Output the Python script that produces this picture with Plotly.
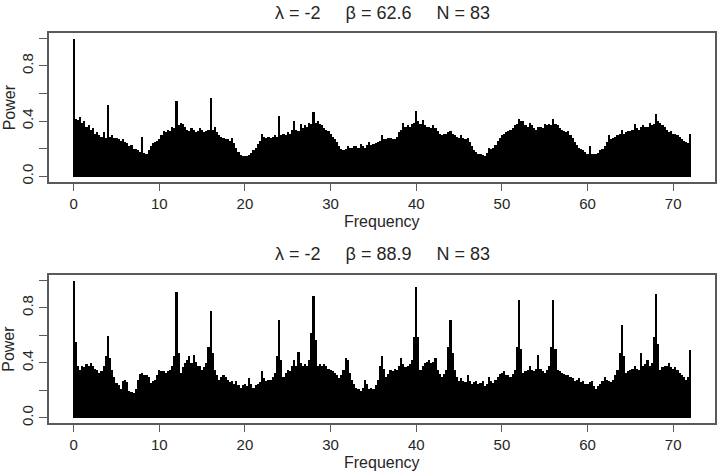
import plotly.graph_objects as go

# Frequencies: 0 to 72 in steps of 0.25 (289 points)
FREQ_STEP = 0.25
FREQ = [i * FREQ_STEP for i in range(289)]

# Power, panel 1 (lambda=-2, beta=62.6, N=83); 4 values per unit frequency
POWER_TOP = [
    1.00, 0.42, 0.41, 0.43,   0.39, 0.40, 0.36, 0.37,   0.34, 0.35, 0.31, 0.32,
    0.30, 0.29, 0.32, 0.28,   0.52, 0.29, 0.30, 0.28,   0.28, 0.27, 0.26, 0.27,
    0.25, 0.24, 0.22, 0.23,   0.20, 0.20, 0.19, 0.18,   0.29, 0.17, 0.16, 0.19,
    0.22, 0.24, 0.25, 0.26,   0.27, 0.30, 0.33, 0.32,   0.34, 0.33, 0.36, 0.35,
    0.55, 0.37, 0.39, 0.38,   0.36, 0.34, 0.33, 0.35,   0.34, 0.32, 0.33, 0.35,
    0.34, 0.32, 0.33, 0.34,   0.57, 0.34, 0.36, 0.32,   0.30, 0.29, 0.28, 0.27,
    0.27, 0.26, 0.28, 0.24,   0.21, 0.18, 0.155, 0.15,  0.15, 0.15, 0.155, 0.17,
    0.19, 0.21, 0.235, 0.26,  0.31, 0.29, 0.28, 0.29,   0.28, 0.29, 0.30, 0.29,
    0.435, 0.30, 0.31, 0.30,  0.32, 0.31, 0.34, 0.40,   0.34, 0.33, 0.38, 0.35,
    0.37, 0.36, 0.39, 0.38,   0.47, 0.39, 0.40, 0.38,   0.37, 0.35, 0.34, 0.33,
    0.31, 0.29, 0.27, 0.25,   0.22, 0.20, 0.19, 0.20,   0.22, 0.21, 0.21, 0.22,
    0.22, 0.21, 0.235, 0.22,  0.21, 0.23, 0.25, 0.23,   0.235, 0.24, 0.25, 0.26,
    0.30, 0.27, 0.27, 0.28,   0.28, 0.27, 0.27, 0.29,   0.32, 0.34, 0.39, 0.36,
    0.37, 0.36, 0.38, 0.39,   0.475, 0.40, 0.38, 0.41,  0.37, 0.36, 0.36, 0.35,
    0.37, 0.35, 0.33, 0.31,   0.30, 0.31, 0.31, 0.32,   0.33, 0.31, 0.30, 0.29,
    0.28, 0.30, 0.28, 0.27,   0.28, 0.25, 0.22, 0.19,   0.175, 0.165, 0.16, 0.155,
    0.15, 0.17, 0.21, 0.20,   0.21, 0.23, 0.26, 0.28,   0.30, 0.31, 0.32, 0.33,
    0.34, 0.35, 0.37, 0.38,   0.415, 0.40, 0.40, 0.37,  0.36, 0.39, 0.37, 0.35,
    0.34, 0.36, 0.36, 0.35,   0.38, 0.37, 0.38, 0.37,   0.42, 0.38, 0.37, 0.35,
    0.34, 0.33, 0.32, 0.33,   0.30, 0.28, 0.25, 0.23,   0.21, 0.20, 0.19, 0.18,
    0.165, 0.22, 0.165, 0.16, 0.165, 0.17, 0.19, 0.20,  0.22, 0.25, 0.30, 0.27,
    0.28, 0.29, 0.30, 0.31,   0.34, 0.31, 0.32, 0.33,   0.33, 0.34, 0.38, 0.35,
    0.34, 0.36, 0.37, 0.36,   0.36, 0.39, 0.37, 0.38,   0.45, 0.40, 0.39, 0.37,
    0.36, 0.34, 0.32, 0.33,   0.31, 0.31, 0.30, 0.29,   0.27, 0.26, 0.25, 0.24,
    0.31,
]

# Power, panel 2 (lambda=-2, beta=88.9, N=83)
POWER_BOTTOM = [
    1.00, 0.55, 0.375, 0.35,  0.375, 0.37, 0.39, 0.38,  0.40, 0.38, 0.36, 0.35,
    0.33, 0.34, 0.375, 0.45,  0.60, 0.435, 0.35, 0.30,  0.255, 0.24, 0.21, 0.27,
    0.28, 0.26, 0.195, 0.19,  0.18, 0.21, 0.28, 0.32,   0.33, 0.31, 0.315, 0.30,
    0.255, 0.27, 0.28, 0.31,  0.35, 0.34, 0.34, 0.33,   0.34, 0.35, 0.375, 0.45,
    0.92, 0.47, 0.33, 0.37,   0.40, 0.42, 0.45, 0.40,   0.46, 0.41, 0.375, 0.38,
    0.35, 0.37, 0.40, 0.52,   0.78, 0.47, 0.35, 0.31,   0.28, 0.30, 0.315, 0.30,
    0.28, 0.26, 0.27, 0.25,   0.27, 0.24, 0.22, 0.24,   0.245, 0.23, 0.29, 0.25,
    0.22, 0.24, 0.245, 0.26,  0.34, 0.29, 0.27, 0.28,   0.28, 0.30, 0.33, 0.45,
    0.71, 0.42, 0.30, 0.33,   0.35, 0.34, 0.375, 0.42,  0.375, 0.48, 0.40, 0.38,
    0.39, 0.38, 0.42, 0.615,  0.89, 0.57, 0.375, 0.39,  0.375, 0.39, 0.375, 0.36,
    0.35, 0.34, 0.33, 0.31,   0.29, 0.31, 0.35, 0.435,  0.42, 0.33, 0.28, 0.25,
    0.22, 0.21, 0.195, 0.22,  0.28, 0.25, 0.21, 0.22,   0.21, 0.24, 0.28, 0.375,
    0.45, 0.36, 0.30, 0.32,   0.35, 0.34, 0.36, 0.35,   0.375, 0.44, 0.39, 0.37,
    0.375, 0.39, 0.42, 0.59,  0.95, 0.59, 0.35, 0.38,   0.40, 0.41, 0.42, 0.40,
    0.41, 0.435, 0.35, 0.32,  0.30, 0.32, 0.35, 0.52,   0.71, 0.47, 0.35, 0.30,
    0.27, 0.29, 0.27, 0.26,   0.31, 0.27, 0.245, 0.26,  0.27, 0.25, 0.255, 0.27,
    0.23, 0.25, 0.30, 0.27,   0.255, 0.28, 0.30, 0.32,  0.33, 0.34, 0.315, 0.31,
    0.30, 0.32, 0.35, 0.52,   0.86, 0.50, 0.33, 0.34,   0.35, 0.375, 0.35, 0.34,
    0.36, 0.46, 0.36, 0.34,   0.33, 0.35, 0.375, 0.52,  0.86, 0.50, 0.35, 0.34,
    0.33, 0.32, 0.315, 0.31,  0.30, 0.29, 0.27, 0.28,   0.29, 0.26, 0.27, 0.25,
    0.245, 0.26, 0.27, 0.23,  0.21, 0.23, 0.245, 0.27,  0.30, 0.28, 0.27, 0.26,
    0.28, 0.31, 0.35, 0.47,   0.675, 0.45, 0.33, 0.34,  0.35, 0.36, 0.375, 0.36,
    0.35, 0.47, 0.375, 0.39,  0.42, 0.38, 0.40, 0.59,   0.90, 0.54, 0.35, 0.37,
    0.375, 0.38, 0.40, 0.37,  0.36, 0.37, 0.35, 0.33,   0.315, 0.30, 0.28, 0.30,
    0.495,
]

SP = "\u00a0" * 5
TITLES = ["λ = -2" + SP + "β = 62.6" + SP + "N = 83",
          "λ = -2" + SP + "β = 88.9" + SP + "N = 83"]
X_TICKS = [0, 10, 20, 30, 40, 50, 60, 70]
Y_TICKS = [0.0, 0.2, 0.4, 0.6, 0.8, 1.0]
Y_TICK_TEXT = ["0.0", "", "0.4", "", "0.8", ""]
X_LABEL = "Frequency"
Y_LABEL = "Power"

W, H = 722, 472
FONT = "Liberation Sans, Arial, sans-serif"
TXT = "#262626"
BOX = "#5a5a5a"

fig = go.Figure()
fig.add_trace(go.Bar(x=FREQ, y=POWER_TOP, width=FREQ_STEP, marker=dict(color="black", line=dict(width=0)),
                     xaxis="x", yaxis="y", showlegend=False))
fig.add_trace(go.Bar(x=FREQ, y=POWER_BOTTOM, width=FREQ_STEP, marker=dict(color="black", line=dict(width=0)),
                     xaxis="x2", yaxis="y2", showlegend=False))

xdom = [49 / W, 715 / W]
ydom_top = [1 - 183 / H, 1 - 33 / H]
ydom_bot = [1 - 426 / H, 1 - 276.5 / H]

def xaxis(anchor):
    return dict(domain=xdom, range=[-2.88, 74.88], anchor=anchor, tickmode="array", tickvals=X_TICKS,
                ticks="outside", ticklen=7, tickwidth=1, tickcolor=BOX, showline=True, mirror=True,
                linecolor=BOX, linewidth=1.5, showgrid=False, zeroline=False,
                tickfont=dict(family=FONT, size=15, color=TXT))

def yaxis(anchor, dom):
    return dict(domain=dom, range=[-0.04, 1.04], anchor=anchor, tickmode="array", tickvals=Y_TICKS,
                ticktext=Y_TICK_TEXT, tickangle=-90, ticks="outside", ticklen=8, tickwidth=1, tickcolor=BOX,
                showline=True, mirror=True, linecolor=BOX, linewidth=1.5, showgrid=False, zeroline=False,
                tickfont=dict(family=FONT, size=15, color=TXT))

fig.update_layout(
    width=W, height=H, margin=dict(l=0, r=0, t=0, b=0),
    paper_bgcolor="white", plot_bgcolor="white", bargap=0,
    xaxis=xaxis("y"), yaxis=yaxis("x", ydom_top),
    xaxis2=xaxis("y2"), yaxis2=yaxis("x2", ydom_bot),
)

cx = (49 + 715) / 2 / W
ann = []
for title, ty, fy, py in [(TITLES[0], 13, 223, 108), (TITLES[1], 256, 465, 351)]:
    ann.append(dict(text=title, x=cx, y=1 - ty / H, xref="paper", yref="paper", showarrow=False,
                    xanchor="center", yanchor="middle", font=dict(family=FONT, size=18, color=TXT)))
    ann.append(dict(text=X_LABEL, x=cx, y=1 - fy / H, xref="paper", yref="paper", showarrow=False,
                    xanchor="center", yanchor="middle", font=dict(family=FONT, size=16, color=TXT)))
    ann.append(dict(text=Y_LABEL, x=9 / W, y=1 - py / H, xref="paper", yref="paper", showarrow=False,
                    xanchor="center", yanchor="middle", textangle=-90,
                    font=dict(family=FONT, size=16, color=TXT)))
fig.update_layout(annotations=ann)

fig.write_html("out.html")
